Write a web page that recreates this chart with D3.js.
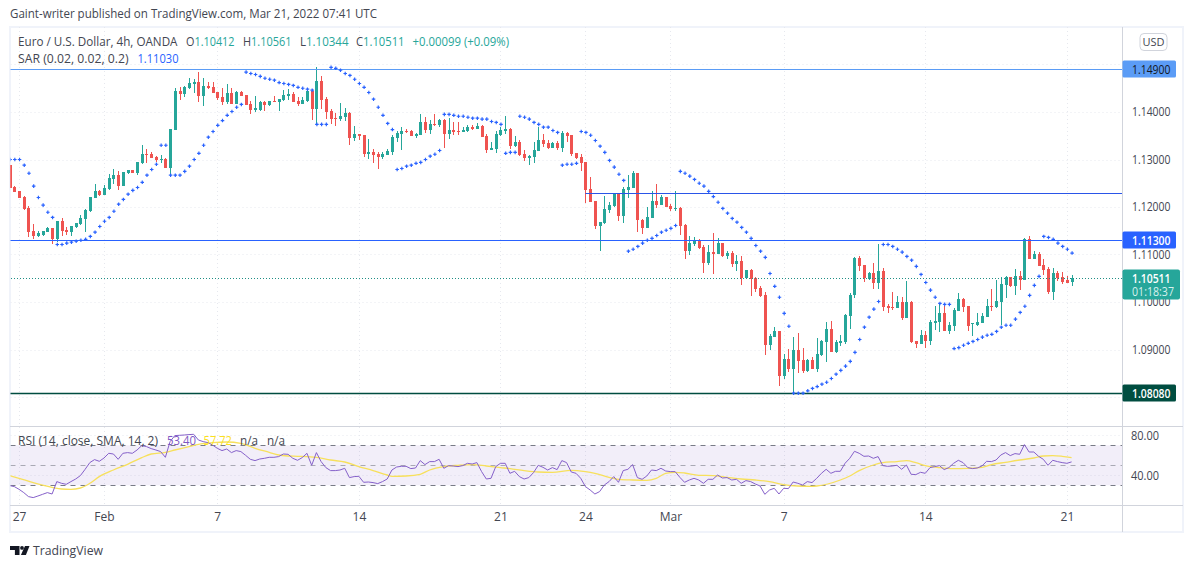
<!DOCTYPE html>
<html><head><meta charset="utf-8"><style>
html,body{margin:0;padding:0;background:#fff}
svg{display:block}
text{font-family:"Open Sans","Noto Sans",sans-serif}
</style>
<script src="https://cdn.jsdelivr.net/npm/d3@7"></script></head><body>
<svg id="c" width="1194" height="568"></svg>
<script>
const opens=[1.1288,1.1242,1.1234,1.1222,1.1198,1.1149,1.1139,1.1142,1.1147,1.1156,1.1133,1.1170,1.1151,1.1147,1.1158,1.1164,1.1175,1.1192,1.1219,1.1234,1.1225,1.1238,1.1259,1.1267,1.1244,1.1272,1.1278,1.1272,1.1293,1.1312,1.1312,1.1305,1.1299,1.1301,1.1282,1.1362,1.1444,1.1438,1.1451,1.1459,1.1463,1.1434,1.1455,1.1453,1.1442,1.1432,1.1421,1.1440,1.1417,1.1442,1.1436,1.1417,1.1404,1.1404,1.1421,1.1415,1.1423,1.1421,1.1425,1.1434,1.1438,1.1423,1.1417,1.1423,1.1444,1.1406,1.1465,1.1427,1.1402,1.1387,1.1385,1.1390,1.1398,1.1345,1.1354,1.1352,1.1312,1.1316,1.1312,1.1305,1.1309,1.1316,1.1345,1.1354,1.1361,1.1360,1.1349,1.1352,1.1379,1.1362,1.1375,1.1373,1.1383,1.1354,1.1362,1.1360,1.1358,1.1360,1.1368,1.1364,1.1371,1.1349,1.1320,1.1322,1.1352,1.1360,1.1364,1.1328,1.1337,1.1312,1.1303,1.1305,1.1318,1.1341,1.1335,1.1324,1.1335,1.1324,1.1356,1.1352,1.1314,1.1305,1.1295,1.1238,1.1213,1.1160,1.1166,1.1194,1.1202,1.1227,1.1181,1.1236,1.1240,1.1272,1.1173,1.1156,1.1177,1.1213,1.1204,1.1221,1.1202,1.1196,1.1198,1.1162,1.1107,1.1122,1.1131,1.1116,1.1082,1.1105,1.1101,1.1124,1.1097,1.1103,1.1080,1.1086,1.1051,1.1067,1.1051,1.1029,1.1015,1.0909,1.0926,1.0939,1.0844,1.0880,1.0859,1.0899,1.0878,1.0855,1.0878,1.0859,1.0888,1.0916,1.0943,1.0895,1.0914,1.0916,1.0971,1.1015,1.1093,1.1078,1.1048,1.1061,1.1040,1.1065,1.0991,1.0989,1.0987,1.1000,1.0966,1.1000,1.0918,1.0912,1.0931,1.0918,1.0956,1.0958,1.0977,1.0939,1.0949,1.0981,1.1006,1.0992,1.0954,1.0952,1.0956,1.0968,1.0992,1.0989,1.1000,1.1036,1.1053,1.1034,1.1055,1.1046,1.1133,1.1091,1.1101,1.1078,1.1069,1.1021,1.1061,1.1053,1.1046,1.10412];
const highs=[1.1288,1.1244,1.1234,1.1223,1.1202,1.1164,1.1149,1.1149,1.1158,1.1156,1.1170,1.1177,1.1158,1.1161,1.1166,1.1183,1.1196,1.1221,1.1248,1.1236,1.1246,1.1269,1.1280,1.1276,1.1274,1.1278,1.1278,1.1295,1.1331,1.1322,1.1316,1.1307,1.1310,1.1303,1.1364,1.1451,1.1453,1.1455,1.1472,1.1469,1.1484,1.1472,1.1463,1.1463,1.1442,1.1451,1.1459,1.1451,1.1444,1.1444,1.1436,1.1423,1.1434,1.1423,1.1423,1.1423,1.1434,1.1427,1.1446,1.1448,1.1442,1.1432,1.1432,1.1448,1.1448,1.1495,1.1476,1.1432,1.1406,1.1398,1.1419,1.1408,1.1400,1.1371,1.1354,1.1352,1.1343,1.1322,1.1316,1.1316,1.1322,1.1352,1.1360,1.1368,1.1364,1.1362,1.1356,1.1396,1.1389,1.1383,1.1396,1.1385,1.1385,1.1387,1.1379,1.1379,1.1368,1.1373,1.1373,1.1377,1.1373,1.1354,1.1337,1.1360,1.1368,1.1392,1.1366,1.1349,1.1341,1.1320,1.1309,1.1337,1.1368,1.1354,1.1341,1.1337,1.1339,1.1360,1.1358,1.1352,1.1314,1.1312,1.1295,1.1263,1.1213,1.1168,1.1223,1.1211,1.1229,1.1229,1.1242,1.1267,1.1276,1.1272,1.1175,1.1200,1.1234,1.1248,1.1225,1.1221,1.1206,1.1234,1.1200,1.1164,1.1139,1.1137,1.1133,1.1120,1.1120,1.1145,1.1135,1.1124,1.1107,1.1107,1.1099,1.1097,1.1067,1.1069,1.1053,1.1034,1.1021,1.0933,1.0947,1.0939,1.0891,1.0901,1.0926,1.0935,1.0903,1.0880,1.0884,1.0924,1.0920,1.0958,1.0960,1.0920,1.0931,1.0975,1.1018,1.1095,1.1097,1.1078,1.1063,1.1082,1.1122,1.1072,1.0996,1.1021,1.1013,1.1011,1.1044,1.1002,1.0918,1.0941,1.0939,1.0962,1.0992,1.0998,1.0992,1.0958,1.0987,1.1019,1.1008,1.0992,1.0956,1.0977,1.0977,1.1006,1.1027,1.1046,1.1053,1.1055,1.1053,1.1069,1.1065,1.1135,1.1139,1.1107,1.1105,1.1091,1.1074,1.1072,1.1065,1.1063,1.1055,1.10561];
const lows=[1.1241,1.1231,1.1218,1.1194,1.1137,1.1133,1.1137,1.1140,1.1147,1.1122,1.1126,1.1139,1.1142,1.1139,1.1156,1.1162,1.1147,1.1189,1.1219,1.1223,1.1225,1.1236,1.1248,1.1236,1.1244,1.1269,1.1272,1.1267,1.1291,1.1293,1.1303,1.1295,1.1293,1.1282,1.1265,1.1362,1.1425,1.1432,1.1448,1.1440,1.1421,1.1413,1.1448,1.1440,1.1425,1.1415,1.1417,1.1417,1.1417,1.1434,1.1415,1.1396,1.1400,1.1402,1.1402,1.1413,1.1421,1.1402,1.1423,1.1425,1.1421,1.1413,1.1417,1.1421,1.1383,1.1375,1.1406,1.1385,1.1375,1.1370,1.1381,1.1381,1.1331,1.1339,1.1341,1.1305,1.1301,1.1293,1.1280,1.1301,1.1309,1.1309,1.1337,1.1320,1.1356,1.1349,1.1345,1.1352,1.1356,1.1354,1.1371,1.1368,1.1324,1.1343,1.1352,1.1352,1.1358,1.1358,1.1362,1.1364,1.1347,1.1314,1.1320,1.1314,1.1349,1.1354,1.1322,1.1326,1.1307,1.1297,1.1288,1.1293,1.1318,1.1326,1.1322,1.1324,1.1320,1.1316,1.1337,1.1307,1.1301,1.1276,1.1209,1.1211,1.1154,1.1107,1.1164,1.1187,1.1200,1.1170,1.1166,1.1219,1.1240,1.1147,1.1143,1.1156,1.1177,1.1198,1.1204,1.1200,1.1192,1.1192,1.1141,1.1091,1.1099,1.1118,1.1112,1.1061,1.1078,1.1059,1.1101,1.1095,1.1091,1.1074,1.1065,1.1036,1.1048,1.1013,1.1021,1.1011,1.0888,1.0899,1.0926,1.0823,1.0838,1.0853,1.0804,1.0851,1.0851,1.0853,1.0859,1.0853,1.0886,1.0874,1.0895,1.0893,1.0907,1.0912,1.0943,1.1008,1.1065,1.1042,1.1046,1.1027,1.1027,1.0981,1.0977,1.0983,1.0987,1.0962,1.0966,1.0914,1.0903,1.0912,1.0903,1.0909,1.0941,1.0937,1.0939,1.0933,1.0939,1.0981,1.0979,1.0939,1.0928,1.0949,1.0956,1.0968,1.0981,1.0987,1.0952,1.1008,1.1032,1.1015,1.1025,1.1046,1.1091,1.1091,1.1076,1.1057,1.1017,1.1004,1.1044,1.1038,1.1040,1.10344];
const closes=[1.1241,1.1232,1.1219,1.1196,1.1147,1.1139,1.1145,1.1149,1.1156,1.1133,1.1170,1.1149,1.1147,1.1160,1.1166,1.1177,1.1194,1.1221,1.1234,1.1225,1.1240,1.1261,1.1267,1.1244,1.1274,1.1278,1.1272,1.1295,1.1312,1.1310,1.1303,1.1299,1.1301,1.1282,1.1364,1.1444,1.1438,1.1453,1.1461,1.1463,1.1434,1.1455,1.1451,1.1440,1.1430,1.1421,1.1440,1.1417,1.1442,1.1434,1.1415,1.1404,1.1408,1.1421,1.1415,1.1423,1.1421,1.1427,1.1436,1.1438,1.1421,1.1417,1.1425,1.1444,1.1406,1.1465,1.1425,1.1400,1.1385,1.1385,1.1392,1.1398,1.1345,1.1354,1.1349,1.1312,1.1316,1.1309,1.1305,1.1312,1.1318,1.1347,1.1356,1.1360,1.1358,1.1349,1.1354,1.1379,1.1362,1.1375,1.1373,1.1383,1.1354,1.1362,1.1358,1.1359,1.1362,1.1368,1.1364,1.1371,1.1347,1.1320,1.1324,1.1354,1.1362,1.1364,1.1328,1.1337,1.1309,1.1303,1.1307,1.1320,1.1341,1.1333,1.1324,1.1335,1.1324,1.1356,1.1349,1.1312,1.1303,1.1293,1.1236,1.1211,1.1160,1.1168,1.1196,1.1204,1.1229,1.1181,1.1238,1.1242,1.1272,1.1173,1.1156,1.1179,1.1213,1.1204,1.1221,1.1200,1.1196,1.1198,1.1160,1.1107,1.1124,1.1131,1.1114,1.1082,1.1105,1.1101,1.1124,1.1097,1.1103,1.1080,1.1086,1.1051,1.1067,1.1048,1.1027,1.1013,1.0909,1.0928,1.0939,1.0844,1.0880,1.0859,1.0899,1.0876,1.0855,1.0878,1.0859,1.0891,1.0918,1.0943,1.0895,1.0916,1.0918,1.0973,1.1015,1.1093,1.1076,1.1051,1.1061,1.1040,1.1065,1.0989,1.0987,1.0987,1.1000,1.0966,1.1000,1.0916,1.0912,1.0931,1.0918,1.0958,1.0960,1.0977,1.0939,1.0952,1.0983,1.1006,1.0989,1.0949,1.0956,1.0958,1.0971,1.0992,1.0989,1.1002,1.1038,1.1053,1.1034,1.1055,1.1046,1.1133,1.1091,1.1101,1.1076,1.1067,1.1021,1.1061,1.1051,1.1042,1.1040,1.10511];
const sar=[1.1300,1.1300,1.1300,1.1288,1.1271,1.1244,1.1220,1.1204,1.1189,1.1178,1.1121,1.1121,1.1124,1.1126,1.1128,1.1130,1.1132,1.1138,1.1147,1.1159,1.1170,1.1178,1.1191,1.1206,1.1216,1.1227,1.1235,1.1241,1.1252,1.1267,1.1279,1.1290,1.1330,1.1330,1.1267,1.1267,1.1267,1.1275,1.1286,1.1300,1.1313,1.1330,1.1347,1.1359,1.1372,1.1382,1.1393,1.1401,1.1410,1.1416,1.1484,1.1481,1.1479,1.1475,1.1471,1.1469,1.1467,1.1462,1.1460,1.1458,1.1456,1.1452,1.1450,1.1448,1.1446,1.1374,1.1374,1.1374,1.1494,1.1492,1.1488,1.1481,1.1477,1.1469,1.1460,1.1452,1.1441,1.1427,1.1410,1.1393,1.1376,1.1363,1.1279,1.1281,1.1286,1.1288,1.1292,1.1294,1.1300,1.1307,1.1311,1.1319,1.1395,1.1395,1.1393,1.1391,1.1391,1.1389,1.1387,1.1387,1.1385,1.1385,1.1380,1.1378,1.1374,1.1313,1.1315,1.1315,1.1391,1.1389,1.1385,1.1378,1.1374,1.1368,1.1368,1.1361,1.1357,1.1288,1.1290,1.1290,1.1292,1.1359,1.1357,1.1351,1.1340,1.1328,1.1315,1.1298,1.1284,1.1269,1.1256,1.1107,1.1111,1.1117,1.1124,1.1130,1.1134,1.1140,1.1147,1.1151,1.1155,1.1161,1.1275,1.1271,1.1265,1.1258,1.1250,1.1244,1.1233,1.1222,1.1210,1.1197,1.1187,1.1176,1.1168,1.1157,1.1147,1.1134,1.1119,1.1107,1.1094,1.1060,1.1033,1.1010,1.0976,1.0949,1.0808,1.0808,1.0808,1.0813,1.0818,1.0822,1.0827,1.0831,1.0839,1.0848,1.0856,1.0865,1.0875,1.0894,1.0921,1.0947,1.0968,1.0985,1.1001,1.1121,1.1121,1.1117,1.1111,1.1105,1.1096,1.1088,1.1075,1.1058,1.1041,1.1025,1.1010,1.0997,1.0995,1.0995,1.0902,1.0904,1.0909,1.0913,1.0917,1.0921,1.0926,1.0930,1.0932,1.0938,1.0947,1.0951,1.0951,1.0964,1.0978,1.0991,1.1014,1.1035,1.1054,1.1138,1.1136,1.1132,1.1124,1.1117,1.1111,1.1103];
const rsi=[29.7,28.7,26,22.7,18.7,17.7,19.3,21,22.7,21.3,33.7,32,31,33.7,36.3,39.7,46,52.7,55.7,54,57.3,62,61.3,56,62,62.7,62,65.3,69.7,68.7,66.7,65.3,63.7,58,73.7,79.7,80,80.3,80.7,81,75.3,73.7,72.7,70.3,67,64.7,66.3,62.7,64.7,63.7,60,56,54.7,56.3,57,58,58,58.7,61.3,61,57,55,57.7,62,50,62.7,53.7,47.7,44.7,44.7,45.3,47,37.7,38.7,39,33,33.3,32.7,31.7,33.7,36.3,45.3,48.3,49,49,46.7,47.3,54.7,50.7,53.7,53.7,56,47,49.7,49.3,48.7,49.7,52,51.3,52.7,43.7,36.3,37,48.7,52,52,42,44,38.7,36.3,37.7,42.7,50,48,45.3,47.7,45.7,54.7,52.7,43.3,42,37,28.7,25.3,21.3,23.7,30.3,33.7,38.7,33,44.7,46,50.7,37.7,36,39.3,45.3,44.7,47,44.3,43.7,43.7,38,33,35.3,37,35.3,32,36,36,40.3,37.3,37.7,35.3,36,32,34.7,33.7,31.3,29.3,21,25.3,27,21.3,27,26.7,33.3,32,30.3,33.7,32.7,37,42,46,42,44,44,52,57,64,62,59,59.3,57,58.7,49.7,49,49.3,50,46,50.3,41,40.7,43,42,47.7,48.7,49.7,45.7,47.7,52,55,52.7,47.7,46.7,47.3,49.3,54,53.7,55.3,60.3,62.7,59.7,61.7,61,70.7,63.3,63.3,59,56,50,55,53.7,52.7,52,53.4];
const smaIndex=[0,2,5,9,11,13,15,17,19,22,25,28,30,33,35,38,40,43,46,49,52,55,57,59,61,65,68,71,74,77,80,81,84,87,89,92,95,98,101,104,106,109,112,115,119,122,124,127,129,132,135,137,139,141,143,146,149,152,155,158,161,164,167,170,171,176,178,180,183,185,188,190,192,194,197,200,203,206,208,211,214,217,219,221,223,225];
const smaValues=[39.7,37,32.7,28,26.3,26,27.3,32,38.7,45.3,51,57.7,61.3,63,65.3,68.7,71,72.7,73.3,72,67,63,60.3,59.3,59,58,55.3,53.3,48.7,44.7,40.3,39,39.3,41,45.3,48.7,50,50.7,49.3,47.7,46.7,44.7,43.3,43,45,43.7,42,38,36,35.3,35,37,42,43,42.3,40,39.7,38,36.3,35.3,33.7,30.7,29.3,29,29.3,35.3,39.3,44.7,50.3,52.7,53.7,54.7,52.7,49.7,47.7,46.7,47,48,50.7,53,55.3,57.3,59.3,59.7,59,57.72];
const priceTicks=[1.14,1.13,1.12,1.11,1.10,1.09];
const rsiTicks=[80,40];
const rsiLevels=[70,50,30];
const timeTickIndex=[2,20,44,74,104,122,140,164,194,224];
const timeTickLabels=["27","Feb","7","14","21","24","Mar","7","14","21"];
const levelPrices=[1.149,1.12295,1.113,1.0808];
const levelColors=["#5b9cf6","#2a55e8","#2962ff","#004d40"];
const titleText="Gaint-writer published on TradingView.com, Mar 21, 2022 07:41 UTC";

const svg=d3.select("#c");
const up="#26a69a",down="#ef5350";
const L=10.5,R=1122.5,T=27,B=425.5;
const x=d3.scaleLinear().domain([0,225]).range([9.6,1071.6]);
const y=d3.scaleLinear().domain([1.14,1.09]).range([112,349.5]);
const ry=d3.scaleLinear().domain([80,40]).range([435.3,475.3]);
const defs=svg.append("defs");
defs.append("clipPath").attr("id","main").append("rect").attr("x",L).attr("y",T).attr("width",R-L).attr("height",B-T);
defs.append("clipPath").attr("id","sub").append("rect").attr("x",L).attr("y",B+1).attr("width",R-L).attr("height",505-B);
const txt="#434651";
const fr="#f0f3fa",ln="#d1d4dc";
svg.append("rect").attr("x",10).attr("y",27).attr("width",1173).attr("height",505).attr("fill","#fff").attr("stroke",fr).attr("stroke-width",2);
const grid=svg.append("g").attr("stroke","#e6e8ee").attr("stroke-dasharray","1 3").attr("stroke-width",1);
priceTicks.concat([1.15,1.08]).forEach(p=>grid.append("line").attr("x1",L).attr("x2",R).attr("y1",Math.round(y(p))+.5).attr("y2",Math.round(y(p))+.5).attr("clip-path","url(#main)"));
timeTickIndex.forEach(i=>{const X=Math.round(x(i))+.5;grid.append("line").attr("x1",X).attr("x2",X).attr("y1",T).attr("y2",505);});
rsiTicks.forEach(v=>grid.append("line").attr("x1",L).attr("x2",R).attr("y1",Math.round(ry(v))+.5).attr("y2",Math.round(ry(v))+.5));
const idx=d3.range(opens.length);
const cg=svg.append("g").attr("clip-path","url(#main)").attr("shape-rendering","crispEdges");
cg.selectAll(".w").data(idx).join("rect").attr("x",i=>Math.round(x(i))).attr("width",1)
 .attr("y",i=>y(highs[i])).attr("height",i=>Math.max(1,y(lows[i])-y(highs[i])))
 .attr("fill",i=>closes[i]>=opens[i]?up:down);
cg.selectAll(".b").data(idx).join("rect").attr("x",i=>Math.round(x(i))-1).attr("width",3)
 .attr("y",i=>y(Math.max(opens[i],closes[i]))).attr("height",i=>Math.max(1,Math.abs(y(opens[i])-y(closes[i]))))
 .attr("fill",i=>closes[i]>=opens[i]?up:down);
levelPrices.forEach((p,k)=>svg.append("line").attr("x1",k==1?x(122):L).attr("x2",R).attr("y1",Math.round(y(p))+.5).attr("y2",Math.round(y(p))+.5).attr("stroke",levelColors[k]).attr("stroke-width",k==3?1.5:1));
const cp=closes[closes.length-1];
svg.append("line").attr("x1",11).attr("x2",R).attr("y1",Math.round(y(cp))+.5).attr("y2",Math.round(y(cp))+.5).attr("stroke","#1f8f85").attr("stroke-dasharray","1 2").attr("shape-rendering","crispEdges");
const plus=d3.symbol().type(d3.symbolCross).size(7);
svg.append("g").attr("clip-path","url(#main)").selectAll("path").data(idx).join("path").attr("d",plus).attr("fill","#2962ff")
 .attr("transform",i=>`translate(${x(i)+.5},${y(sar[i])})`);
const sub=svg.append("g").attr("clip-path","url(#sub)");
sub.append("rect").attr("x",L).attr("width",R-L).attr("y",ry(70)).attr("height",ry(30)-ry(70)).attr("fill","#7e57c2").attr("fill-opacity",.1);
rsiLevels.forEach(v=>sub.append("line").attr("x1",L).attr("x2",R).attr("y1",Math.round(ry(v))+.5).attr("y2",Math.round(ry(v))+.5).attr("stroke","#787b86").attr("stroke-opacity",v==50?.6:1).attr("stroke-dasharray","5 5"));
const sline=d3.line().x((d,k)=>x(smaIndex[k])).y(d=>ry(d)).curve(d3.curveMonotoneX);
sub.append("path").attr("d",sline(smaValues)).attr("fill","none").attr("stroke","#f7e05c").attr("stroke-width",1.3);
const rline=d3.line().x((d,k)=>x(k)).y(d=>ry(d));
sub.append("path").attr("d",rline(rsi)).attr("fill","none").attr("stroke","#8560c9").attr("stroke-width",1);
svg.append("g").attr("stroke",ln).attr("shape-rendering","crispEdges").call(g=>{
 g.append("line").attr("x1",1122.5).attr("x2",1122.5).attr("y1",27).attr("y2",532);
 g.append("line").attr("x1",10).attr("x2",1183).attr("y1",426).attr("y2",426).attr("stroke-width",1);
 g.append("line").attr("x1",10).attr("x2",1183).attr("y1",505.5).attr("y2",505.5);
});
const ax=svg.append("g").attr("transform","translate(1122,0)").call(d3.axisRight(y).tickValues(priceTicks).tickFormat(d3.format(".5f")).tickSize(0).tickPadding(10));
const ax2=svg.append("g").attr("transform","translate(1122,0)").call(d3.axisRight(ry).tickValues(rsiTicks).tickFormat(d3.format(".2f")).tickSize(0).tickPadding(9));
const ax3=svg.append("g").attr("transform","translate(0,505)").call(d3.axisBottom(x).tickValues(timeTickIndex).tickFormat((d,k)=>timeTickLabels[k]).tickSize(0).tickPadding(7));
[ax,ax2,ax3].forEach(a=>{a.select(".domain").remove();a.selectAll("text").attr("font-size",12).attr("fill",txt);});
ax.selectAll("text").attr("textLength",38.5).attr("lengthAdjust","spacingAndGlyphs");
ax2.selectAll("text").attr("textLength",28).attr("lengthAdjust","spacingAndGlyphs");
function fit(n,w){return n.attr("textLength",w).attr("lengthAdjust","spacingAndGlyphs");}
function badge(p,bg,col,label){
 const Y=Math.round(y(p));
 svg.append("rect").attr("x",1122.5).attr("y",Y-8.5).attr("width",53.5).attr("height",17).attr("rx",1.5).attr("fill",bg);
 fit(svg.append("text").attr("x",1132).attr("y",Y+.5).attr("dy","0.35em").attr("font-size",12).attr("font-weight",label?600:400).attr("fill",col).text(d3.format(".5f")(p)),38.5);
}
badge(levelPrices[0],"#5b9cf6","#131722");
badge(levelPrices[2],"#2962ff","#fff",1);
badge(levelPrices[3],"#004d40","#fff",1);
const cy=Math.round(y(cp));
svg.append("rect").attr("x",1122.5).attr("y",cy-8.5).attr("width",57.5).attr("height",30).attr("rx",2).attr("fill",up);
fit(svg.append("text").attr("x",1132).attr("y",cy+.5).attr("dy","0.35em").attr("font-size",12).attr("font-weight",600).attr("fill","#fff").text(d3.format(".5f")(cp)),38.5);
fit(svg.append("text").attr("x",1132).attr("y",cy+14).attr("dy","0.35em").attr("font-size",12).attr("fill","#d6f0ed").text("01:18:37"),42);
svg.append("rect").attr("x",1140).attr("y",33.5).attr("width",27).attr("height",17).attr("rx",4).attr("fill","#fff").attr("stroke",ln);
svg.append("text").attr("x",1153.5).attr("y",42).attr("dy","0.35em").attr("text-anchor","middle").attr("font-size",11).attr("fill",txt).text("USD");
function t(X,Y,s,col,w,fs){const n=svg.append("text").attr("x",X).attr("y",Y).attr("dy","0.35em").attr("font-size",fs||12).attr("fill",col||txt).text(s);return w?fit(n,w):n;}
t(10,14,titleText,"#434651",367);
t(18,42,"Euro / U.S. Dollar, 4h, OANDA",txt,159.5);
const legendX=[186,243,300,356],legendL=["O","H","L","C"],legendV=[1.10412,1.10561,1.10344,1.10511];
legendL.forEach((s,k)=>{const n=t(legendX[k],42,s,txt,48.5);n.append("tspan").attr("fill",up).text(d3.format(".5f")(legendV[k]));});
t(412.5,42,"+0.00099 (+0.09%)",up,96.5);
t(18,59,"SAR (0.02, 0.02, 0.2)",txt,110.5);
t(137.5,59,"1.11030","#2962ff",41);
t(18,441,"RSI (14, close, SMA, 14, 2)",txt,140);
t(167,441,"53.40","#7e57c2",29);
t(203.5,441,"57.72","#fbe01f",28.5);
t(240,441,"n/a",txt,18);
t(267,441,"n/a",txt,18);
const lg=svg.append("g").attr("fill","#131722");
lg.append("path").attr("d","M10 546h9.5v9h-4.6v-5H10z");
lg.append("circle").attr("cx",22).attr("cy",547.9).attr("r",1.9);
lg.append("path").attr("d","M25 546h4.5l-3.6 9h-5z");
t(33,550.5,"TradingView","#434651",70,13.5);
</script></body></html>
